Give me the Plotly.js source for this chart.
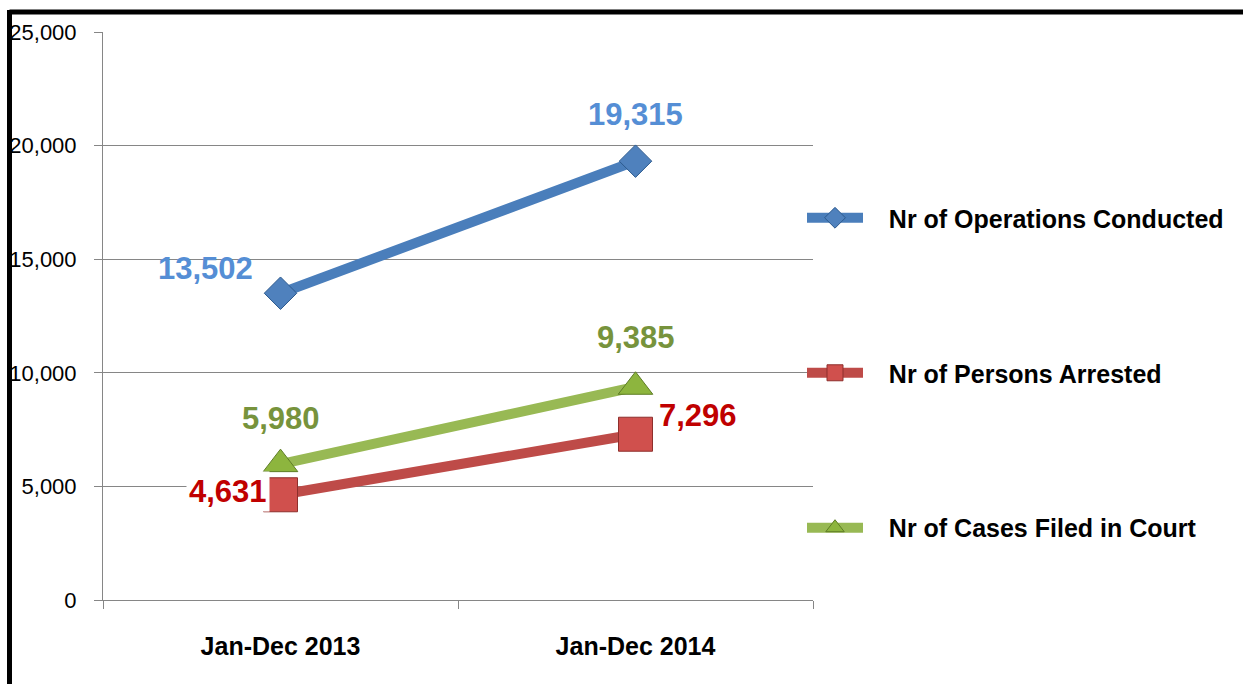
<!DOCTYPE html>
<html>
<head>
<meta charset="utf-8">
<script src="https://cdn.plot.ly/plotly-3.0.1.min.js"></script>
<style>html,body{margin:0;padding:0;background:#fff;}#chart{width:1243px;height:684px;}</style>
</head>
<body>
<div id="chart"></div>
<script>
var categories = ["Jan-Dec 2013", "Jan-Dec 2014"];
var operations = [13502, 19315];
var arrested = [4631, 7296];
var cases = [5980, 9385];
var seriesNames = ["Nr of Operations Conducted", "Nr of Persons Arrested", "Nr of Cases Filed in Court"];
var yTickVals = [0, 5000, 10000, 15000, 20000, 25000];
var yTickText = ["0", "5,000", "10,000", "15,000", "20,000", "25,000"];

var FONT = "Liberation Sans, Arial, sans-serif";
var LEGEND_PAD = "\u00a0\u00a0\u00a0";

var series = [
  {name: seriesNames[0], y: operations, line: "#4A7EBB", marker: "diamond", size: 25, mfill: "#4F81BD", mline: "#2C5A8E", label: "#558ED5", legend: "legend",
   shifts: [[-75, 25], [0, 47]], bg: [false, false]},
  {name: seriesNames[1], y: arrested, line: "#BE4B48", marker: "square", size: 34, mfill: "#D0504D", mline: "#8E2F2C", label: "#C00000", legend: "legend2",
   shifts: [[-53, 3], [62, 19]], bg: [true, true]},
  {name: seriesNames[2], y: cases, line: "#98B954", marker: "triangle-up", size: 30, mfill: "#8DB53E", mline: "#5E7D25", label: "#77933C", legend: "legend3",
   shifts: [[0, 46], [0, 49]], bg: [false, false]}
];

function fmt(v) { return v.toLocaleString("en-US"); }

var traces = [];
var annotations = [];
var order = [2, 1, 0];
order.forEach(function (i) {
  var s = series[i];
  traces.push({
    type: "scatter", mode: "lines+markers", x: categories, y: s.y, name: LEGEND_PAD + s.name,
    legend: s.legend,
    line: {color: s.line, width: 10},
    marker: {symbol: s.marker, size: s.size, color: s.mfill, line: {color: s.mline, width: 1}},
    hoverinfo: "x+y+name"
  });
});
series.forEach(function (s) {
  s.y.forEach(function (v, j) {
    annotations.push({
      x: categories[j], y: v, xref: "x", yref: "y", text: fmt(v), showarrow: false,
      xshift: s.shifts[j][0], yshift: s.shifts[j][1],
      font: {family: FONT, size: 31, color: s.label, weight: "bold"},
      bgcolor: s.bg[j] ? "#ffffff" : "rgba(0,0,0,0)", borderpad: 2
    });
  });
});

function legendAt(yPaper) {
  return {x: (802 - 103) / 710, xanchor: "left", y: yPaper, yanchor: "middle", bgcolor: "rgba(0,0,0,0)",
    font: {family: FONT, size: 25, color: "#000", weight: "bold"}, itemwidth: 56, itemsizing: "trace"};
}

var layout = {
  width: 1243, height: 684,
  margin: {l: 103, r: 430, t: 32, b: 84},
  paper_bgcolor: "#fff", plot_bgcolor: "#fff",
  showlegend: true,
  legend: legendAt(0.6725),
  legend2: legendAt(0.3996),
  legend3: legendAt(0.1268),
  xaxis: {
    type: "category", range: [-0.5, 1.5], showgrid: false, showline: true, linecolor: "#868686", linewidth: 1,
    ticks: "outside", tickson: "boundaries", ticklen: 8, tickcolor: "#868686",
    tickfont: {family: FONT, size: 25, color: "#000", weight: "bold"}, ticklabelstandoff: 24, zeroline: false, fixedrange: true
  },
  yaxis: {
    range: [0, 25000], tickvals: yTickVals, ticktext: yTickText, showgrid: true, gridcolor: "#868686", gridwidth: 1,
    showline: true, linecolor: "#868686", linewidth: 1, ticks: "outside", ticklen: 8, tickcolor: "#868686",
    tickfont: {family: FONT, size: 22, color: "#000"}, ticklabelstandoff: 13, zeroline: false, fixedrange: true
  },
  annotations: annotations,
  shapes: [
    {type: "line", xref: "paper", yref: "paper", x0: (9.5 - 103) / 710, x1: (1243 - 103) / 710, y0: (600 - 12) / 568, y1: (600 - 12) / 568,
      line: {color: "#000", width: 5}},
    {type: "line", xref: "paper", yref: "paper", x0: (9.5 - 103) / 710, x1: (9.5 - 103) / 710, y0: (600 - 10) / 568, y1: (600 - 690) / 568,
      line: {color: "#000", width: 5}}
  ]
};

Plotly.newPlot("chart", traces, layout, {displayModeBar: false, staticPlot: true});
</script>
</body>
</html>
